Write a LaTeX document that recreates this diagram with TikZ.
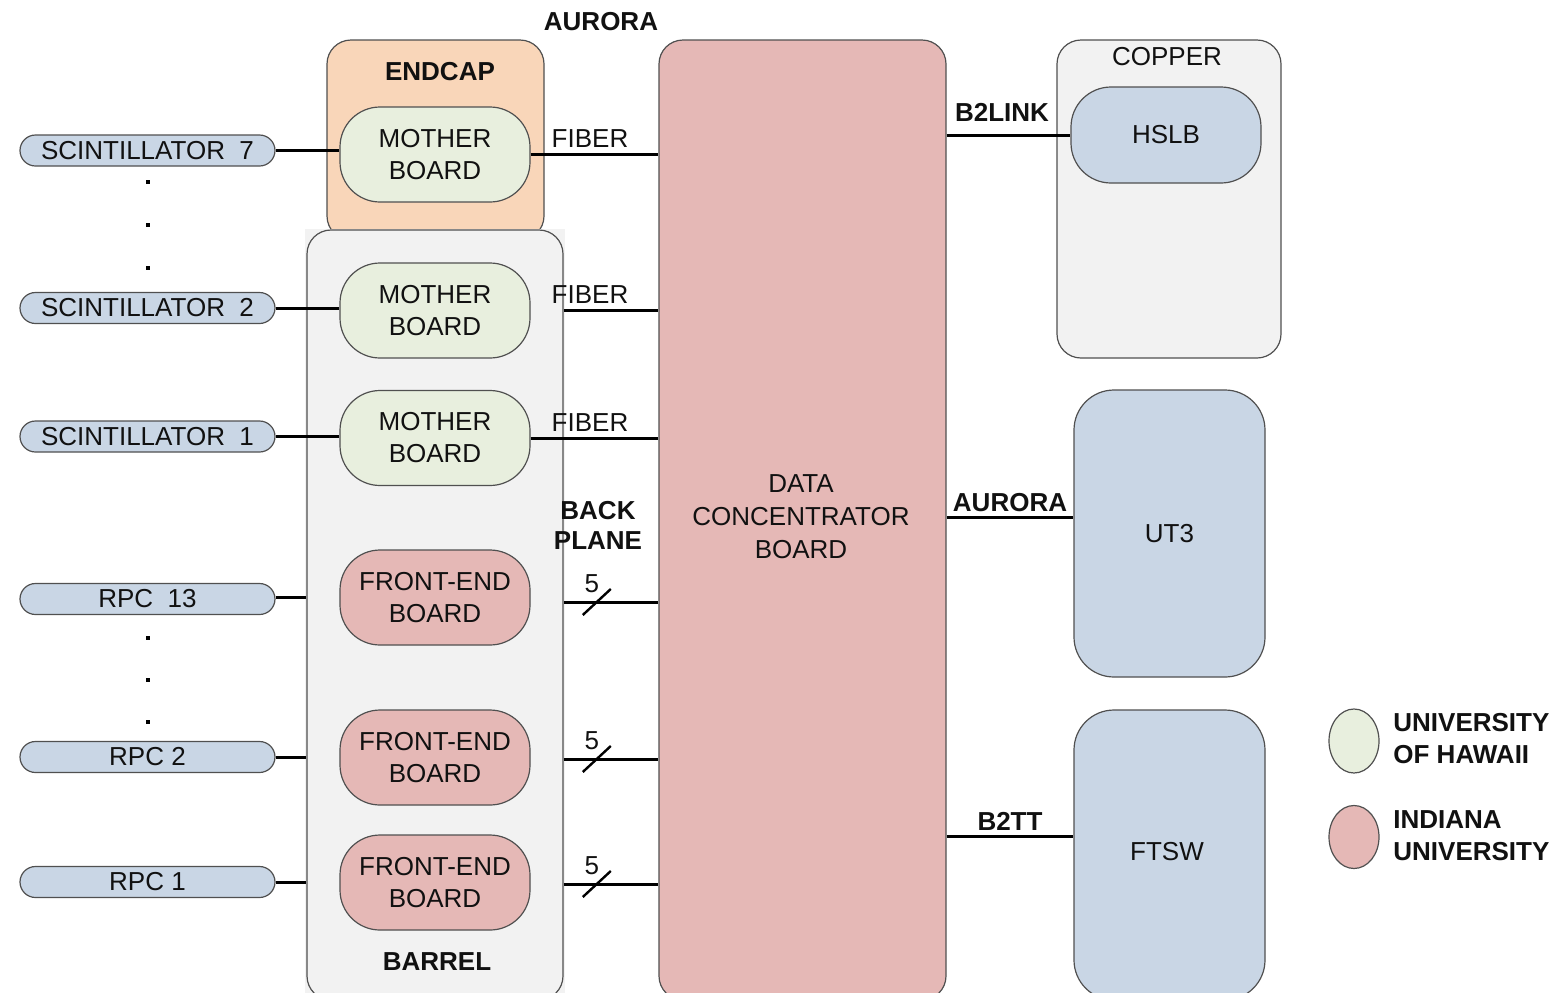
\documentclass[tikz,border=0pt]{standalone}
\usepackage{fontspec}
\setmainfont{Liberation Sans}
\usetikzlibrary{calc,shapes.geometric}
\definecolor{cOrange}{HTML}{F9D6B9}
\definecolor{cGreen}{HTML}{E8EFDE}
\definecolor{cPink}{HTML}{E5B8B6}
\definecolor{cBlue}{HTML}{C9D6E5}
\definecolor{cGray}{HTML}{F2F2F2}
\definecolor{cEdge}{HTML}{505050}
\definecolor{cText}{HTML}{111111}
\begin{document}
\begin{tikzpicture}[x=0.5pt,y=-0.5pt,
  font=\fontsize{13}{16}\selectfont, text=cText,
  box/.style={draw=cEdge, line width=0.6pt, rounded corners=#1, inner sep=0pt, align=center},
  box/.default=12pt,
  board/.style={box=20pt, minimum width=95pt, minimum height=47.5pt},
  mb/.style={board, fill=cGreen},
  fe/.style={board, fill=cPink},
  pill/.style={box=7.75pt, fill=cBlue, minimum width=127.5pt, minimum height=15.5pt},
  conn/.style={line width=1.5pt, draw=black},
  slashline/.style={line width=1.2pt, draw=black},
  lbl/.style={inner sep=0pt, align=center},
  blbl/.style={inner sep=0pt, align=center, font=\fontsize{13}{15}\selectfont\bfseries},
  legtxt/.style={inner sep=0pt, align=left, anchor=west, font=\fontsize{13}{16}\selectfont\bfseries},
  legov/.style={draw=cEdge, line width=0.6pt, ellipse, minimum width=25pt, inner sep=0pt},
  dot/.style={fill=black}
]
\useasboundingbox (0,0) rectangle (1559,992);
\clip (0,0) rectangle (1559,992);

% containers
\node[box, fill=cOrange, minimum width=108.5pt, minimum height=100pt] (endcap) at (435.5,140) {};
\fill[cGray] (305,229) rectangle (565,1000);
\node[box, fill=cGray, minimum width=128pt, minimum height=385pt] (barrel) at (435,615) {};
\node[box, fill=cPink, minimum width=143.5pt, minimum height=480pt] (dcb) at (802.5,520) {};
\node[box, fill=cGray, minimum width=112pt, minimum height=159pt] (copper) at (1169,199) {};

\node[blbl] (endcaplbl) at (440,72) {ENDCAP};
\node[blbl] (barrellbl) at (437,962) {BARREL};
\node[lbl] (copperlbl) at (1167,57) {COPPER};
\node[lbl] (dcblbl) at (801,517) {DATA\\[0.5pt]CONCENTRATOR\\[0.5pt]BOARD};

% boards
\node[mb] (mb1) at (435,154.5) {MOTHER\\BOARD};
\node[mb] (mb2) at (435,310.5) {MOTHER\\BOARD};
\node[mb] (mb3) at (435,438) {MOTHER\\BOARD};
\node[fe] (fe1) at (435,597.5) {FRONT-END\\BOARD};
\node[fe] (fe2) at (435,757.5) {FRONT-END\\BOARD};
\node[fe] (fe3) at (435,882.5) {FRONT-END\\BOARD};

% right side
\node[box=20pt, fill=cBlue, minimum width=95pt, minimum height=48pt] (hslb) at (1166,135) {HSLB};
\node[box=20pt, fill=cBlue, minimum width=95.5pt, minimum height=143.5pt] (ut3) at (1169.5,533.5) {UT3};
\node[box=20pt, fill=cBlue, minimum width=95.5pt, minimum height=145pt] (ftsw) at (1169.5,855) {};
\node[lbl] (ftswlbl) at (1167,852) {FTSW};

% inputs
\node[pill] (s7) at (147.5,150.5) {SCINTILLATOR\ \ 7};
\node[pill] (s2) at (147.5,308) {SCINTILLATOR\ \ 2};
\node[pill] (s1) at (147.5,436.5) {SCINTILLATOR\ \ 1};
\node[pill] (r13) at (147.5,599) {RPC\ \ 13};
\node[pill] (r2) at (147.5,757) {RPC 2};
\node[pill] (r1) at (147.5,882) {RPC 1};

% dots
\foreach \yy in {182,225,268,638,680,722} \fill[dot] (146,\yy-2) rectangle (150,\yy+2);

% input connectors
\draw[conn] (s7.east) -- (s7.east -| mb1.west);
\draw[conn] (s2.east) -- (s2.east -| mb2.west);
\draw[conn] (s1.east) -- (s1.east -| mb3.west);
\draw[conn] ($(r13.east)+(0,-2)$) -- ($(r13.east -| barrel.west)+(0,-2)$);
\draw[conn] (r2.east) -- (r2.east -| barrel.west);
\draw[conn] (r1.east) -- (r1.east -| barrel.west);

% fibers
\draw[conn] (mb1.east) -- (mb1.east -| dcb.west);
\draw[conn] (mb2.east -| barrel.east) -- (mb2.east -| dcb.west);
\draw[conn] (mb3.east) -- (mb3.east -| dcb.west);
\node[lbl] (f1) at (590,139) {FIBER};
\node[lbl] (f2) at (590,295) {FIBER};
\node[lbl] (f3) at (590,423) {FIBER};

% backplane buses
\draw[conn] ($(fe1.east -| barrel.east)+(0,4.5)$) -- ($(fe1.east -| dcb.west)+(0,4.5)$) coordinate[pos=0.35] (m1);
\draw[conn] ($(fe2.east -| barrel.east)+(0,1.5)$) -- ($(fe2.east -| dcb.west)+(0,1.5)$) coordinate[pos=0.35] (m2);
\draw[conn] ($(fe3.east -| barrel.east)+(0,1.5)$) -- ($(fe3.east -| dcb.west)+(0,1.5)$) coordinate[pos=0.35] (m3);
\foreach \m in {m1,m2,m3} {
  \draw[slashline] ($(\m)+(-14,13)$) -- ($(\m)+(14,-13)$);
  \node[lbl] at ($(\m)+(-5,-18)$) {5};
}
\node[blbl] (bp) at (598,525) {BACK\\PLANE};
\node[blbl] (aur1) at (601,22) {AURORA};

% right connectors
\draw[conn] (hslb.west -| dcb.east) -- (hslb.west);
\draw[conn] ($(ut3.west -| dcb.east)+(0,-16)$) -- ($(ut3.west)+(0,-16)$);
\draw[conn] ($(ftsw.west -| dcb.east)+(0,-19)$) -- ($(ftsw.west)+(0,-19)$);
\node[blbl] (b2link) at (1002,112) {B2LINK};
\node[blbl] (aur2) at (1010,503) {AURORA};
\node[blbl] (b2tt) at (1010,821) {B2TT};

% legend
\node[legov, fill=cGreen, minimum height=32pt] (lg1) at (1354,741) {};
\node[legov, fill=cPink, minimum height=31.5pt] (lg2) at (1354,837) {};
\node[legtxt] (lt1) at (1393,739) {UNIVERSITY\\OF HAWAII};
\node[legtxt] (lt2) at (1393,836) {INDIANA\\UNIVERSITY};
\end{tikzpicture}
\end{document}
